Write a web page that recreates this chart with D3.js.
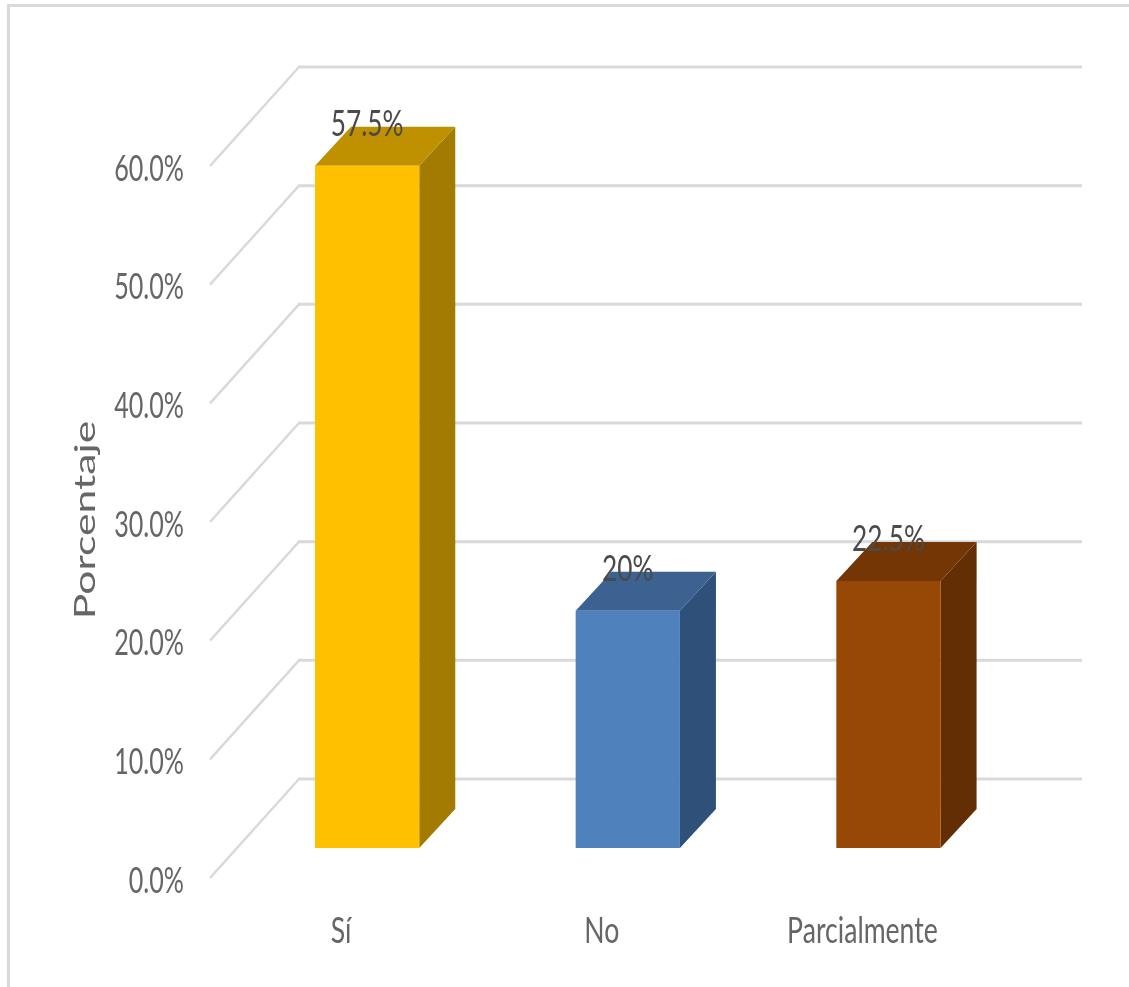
<!DOCTYPE html>
<html>
<head>
<meta charset="utf-8">
<script src="https://cdn.jsdelivr.net/npm/d3@7/dist/d3.min.js"></script>
<style>
html,body{margin:0;padding:0;background:#fff;overflow:hidden}
svg{display:block}
text{font-family:Lato,"Open Sans",sans-serif;filter:blur(0.5px)}
</style>
</head>
<body>
<script>
const categories = ["Sí", "No", "Parcialmente"];
const values = [57.5, 20, 22.5];
const valueLabels = ["57.5%", "20%", "22.5%"];
const yTicks = [0, 10, 20, 30, 40, 50, 60];
const frontColors = ["#ffc000", "#4f81bd", "#974706"];
const topColors = ["#bf9000", "#3b6291", "#743604"];
const sideColors = ["#a37b00", "#2f5179", "#632e03"];

const W = 1129, H = 987;
const svg = d3.select("body").append("svg").attr("width", W).attr("height", H);

// Wall depth of the 3-D plot and the bar depth
const wallDx = 89, wallDy = 99, barDx = 36, barDy = 39;
const barBase = 848;

const yFront = d3.scaleLinear().domain([0, 60]).range([878, 166]);
const xBand = d3.scaleBand().domain(categories).range([236.8, 1018.8]).paddingInner(0.6).paddingOuter(0.3);
const h = v => yFront(0) - yFront(v);

// Frame
svg.append("path").attr("d", `M8.5,${H}V5.5H${W}`).attr("fill", "none")
  .attr("stroke", "#d9d9d9").attr("stroke-width", 3);

// Gridlines
const grid = svg.append("g");
yTicks.forEach(t => {
  const y = yFront(t);
  grid.append("line").attr("x1", 210).attr("y1", y).attr("x2", 210 + wallDx).attr("y2", y - wallDy)
    .attr("stroke", "#d9d9d9").attr("stroke-width", 2.4);
  grid.append("line").attr("x1", 210 + wallDx - 1).attr("y1", y - wallDy).attr("x2", 1082).attr("y2", y - wallDy)
    .attr("stroke", "#d9d9d9").attr("stroke-width", 3);
});

function label(sel, x, y, str, sx, anchor, fs, fill) {
  return sel.append("text")
    .attr("transform", `translate(${x},${y}) scale(${sx},1)`)
    .attr("text-anchor", anchor).attr("font-size", fs).attr("font-weight", 400).attr("fill", fill).text(str);
}

// Y tick labels
const tickG = svg.append("g");
yTicks.forEach(t => label(tickG, 184, yFront(t) + 14.5, d3.format(".1f")(t) + "%", 0.68, "end", 37, "#666666"));

// Bars
const bars = svg.append("g");
categories.forEach((c, i) => {
  const x0 = xBand(c), x1 = x0 + xBand.bandwidth(), top = barBase - h(values[i]);
  bars.append("polygon").attr("fill", sideColors[i])
    .attr("points", [[x1, top], [x1 + barDx, top - barDy], [x1 + barDx, barBase - barDy], [x1, barBase]].join(" "));
  bars.append("polygon").attr("fill", topColors[i])
    .attr("points", [[x0, top], [x0 + barDx, top - barDy], [x1 + barDx, top - barDy], [x1, top]].join(" "));
  bars.append("rect").attr("x", x0).attr("y", top).attr("width", x1 - x0).attr("height", h(values[i])).attr("fill", frontColors[i]);
});

// Data labels
const dl = svg.append("g");
categories.forEach((c, i) => {
  const cx = xBand(c) + xBand.bandwidth() / 2;
  label(dl, cx, barBase - h(values[i]) - 30, valueLabels[i], 0.71, "middle", 37, "#4a4a4a");
});

// Category labels
const cl = svg.append("g");
categories.forEach(c => {
  label(cl, xBand(c) + xBand.bandwidth() / 2 - 26, 943, c, 0.72, "middle", 37, "#666666");
});

// Axis title
svg.append("text")
  .attr("transform", "translate(95,520) rotate(-90) scale(1.47,1)")
  .attr("text-anchor", "middle").attr("font-size", 29).attr("font-weight", 400)
  .attr("fill", "#666666").text("Porcentaje");
</script>
</body>
</html>
